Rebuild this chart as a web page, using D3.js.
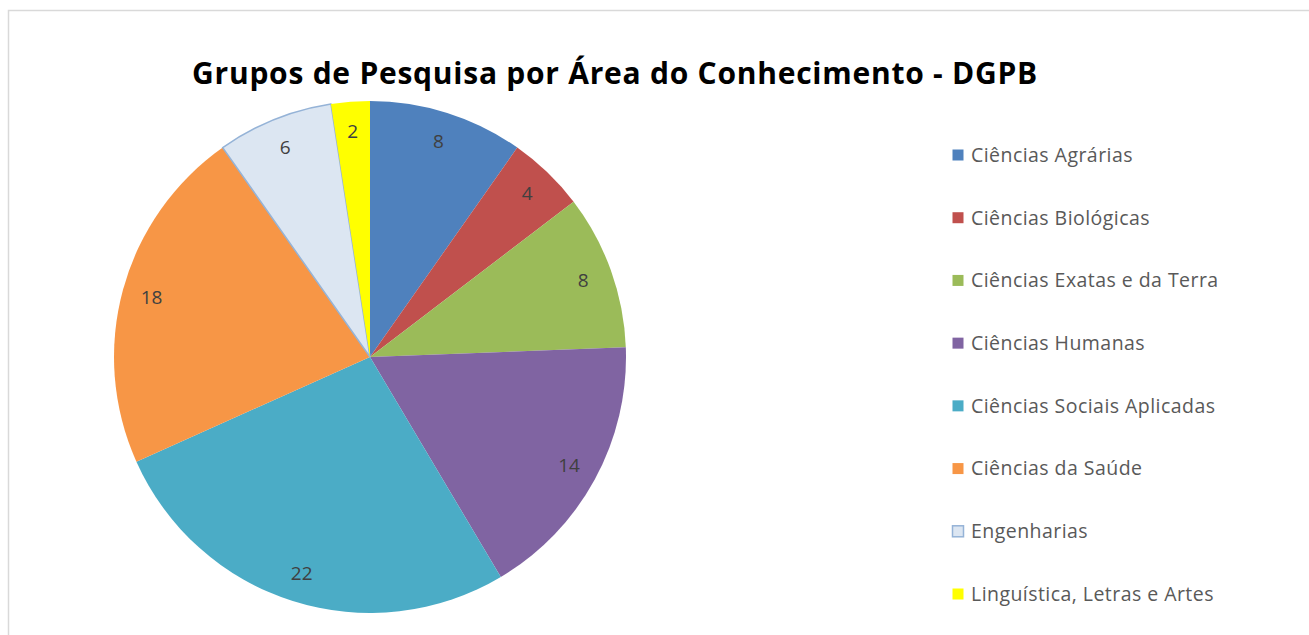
<!DOCTYPE html>
<html lang="pt">
<head>
<meta charset="UTF-8">
<title>Grupos de Pesquisa por Área do Conhecimento - DGPB</title>
<script src="https://d3js.org/d3.v7.min.js"></script>
<style>
  body { margin: 0; background: #fff; }
  svg { display: block; font-family: "Open Sans", "DejaVu Sans", sans-serif; }
</style>
</head>
<body>
<script>
const categories = ["Ciências Agrárias", "Ciências Biológicas", "Ciências Exatas e da Terra",
  "Ciências Humanas", "Ciências Sociais Aplicadas", "Ciências da Saúde", "Engenharias",
  "Linguística, Letras e Artes"];
const values = [8, 4, 8, 14, 22, 18, 6, 2];
const colors = ["#4f81bd", "#c0504d", "#9bbb59", "#8064a2", "#4bacc6", "#f79646", "#dce6f2", "#ffff00"];
const strokes = [null, null, null, null, null, null, "#95b3d7", null];

const width = 1309, height = 635;
const cx = 370, cy = 357, radius = 256;

const svg = d3.select("body").append("svg")
  .attr("width", width)
  .attr("height", height);

// chart frame (runs off the right and bottom)
svg.append("rect")
  .attr("x", 8.5).attr("y", 10.5)
  .attr("width", width).attr("height", height)
  .attr("fill", "none")
  .attr("stroke", "#d9d9d9")
  .attr("stroke-width", 1.5);

svg.append("text")
  .attr("x", 615).attr("y", 84)
  .attr("text-anchor", "middle")
  .attr("font-size", 30)
  .attr("letter-spacing", 0.75)
  .attr("font-weight", "bold")
  .attr("fill", "#000")
  .text("Grupos de Pesquisa por Área do Conhecimento - DGPB");

const pie = d3.pie().sort(null).value(d => d);
const arcs = pie(values);
const arc = d3.arc().innerRadius(0).outerRadius(radius);
const labelArc = d3.arc().innerRadius(radius * 0.885).outerRadius(radius * 0.885);

const g = svg.append("g").attr("transform", `translate(${cx},${cy})`);

g.selectAll("path")
  .data(arcs)
  .join("path")
  .attr("d", arc)
  .attr("fill", (d, i) => colors[i])
  .attr("stroke", (d, i) => strokes[i] || "none")
  .attr("stroke-width", 1.5);

g.selectAll("text")
  .data(arcs)
  .join("text")
  .attr("transform", d => `translate(${labelArc.centroid(d)})`)
  .attr("text-anchor", "middle")
  .attr("dy", "0.35em")
  .attr("font-size", 19)
  .attr("fill", "#404040")
  .text(d => d.data);

// legend
const legendY = d3.scalePoint().domain(categories).range([155, 594]);

const legend = svg.append("g")
  .selectAll("g")
  .data(categories)
  .join("g")
  .attr("transform", d => `translate(952,${legendY(d)})`);

legend.append("rect")
  .attr("x", 0.5).attr("y", -5.5)
  .attr("width", 11).attr("height", 11)
  .attr("fill", (d, i) => colors[i])
  .attr("stroke", (d, i) => strokes[i] || "none")
  .attr("stroke-width", 1.5);

legend.append("text")
  .attr("x", 19)
  .attr("dy", "0.35em")
  .attr("font-size", 19.5)
  .attr("letter-spacing", 0.45)
  .attr("fill", "#595959")
  .text(d => d);
</script>
</body>
</html>
